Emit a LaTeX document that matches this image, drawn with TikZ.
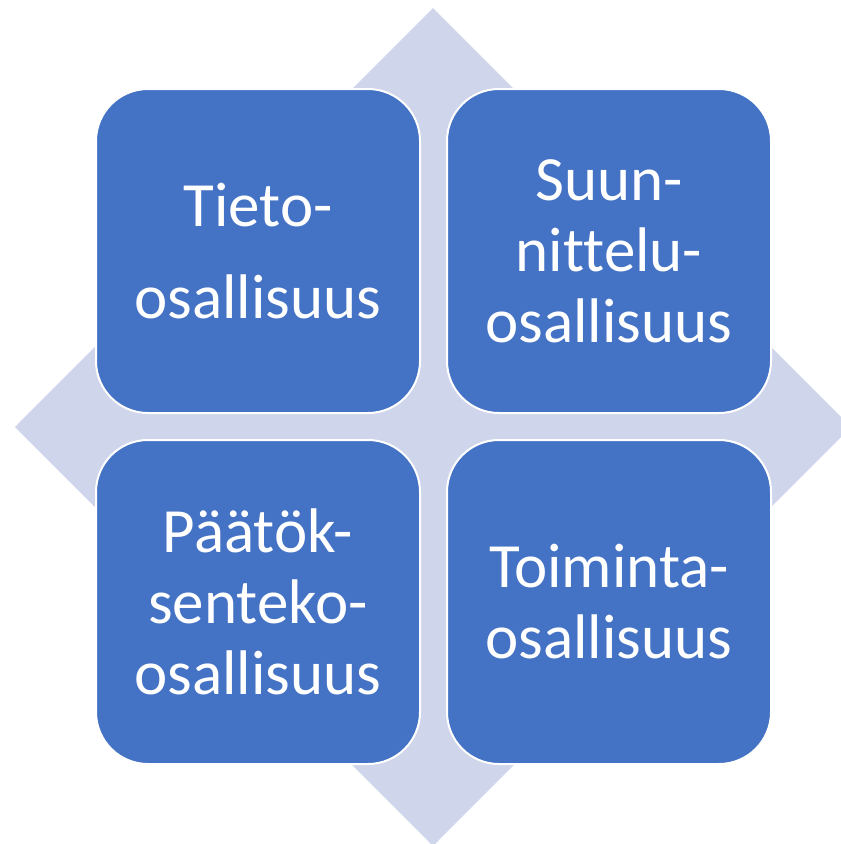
\documentclass[tikz,border=0pt]{standalone}
\usepackage{fontspec}
\setmainfont{Carlito}[Ligatures={NoCommon}]
\usetikzlibrary{positioning}
\definecolor{tileblue}{HTML}{4472C4}
\definecolor{backlilac}{HTML}{CFD5EA}
\begin{document}
\begin{tikzpicture}[x=1pt, y=-1pt, node distance=27pt,
    tile/.style={draw=white, line width=2pt, fill=tileblue, rounded corners=52pt,
      minimum width=324pt, minimum height=324pt, inner sep=0pt, outer sep=0pt,
      text=white, align=center, font=\fontsize{63}{71}\selectfont}]
  \useasboundingbox (0,0) rectangle (841,844);
  \fill[backlilac] (433,8) -- (851,427) -- (433,846) -- (15,427) -- cycle;
  \node[tile, font=\fontsize{63}{92}\selectfont] (tieto) at (258,251) {Tieto-\\osallisuus};
  \node[tile, right=of tieto] (suunnittelu) {Suun-\\nittelu-\\osallisuus};
  \node[tile, below=of tieto] (paatos) {Päätök-\\senteko-\\osallisuus};
  \node[tile, right=of paatos] (toiminta) {Toiminta-\\osallisuus};
\end{tikzpicture}
\end{document}
